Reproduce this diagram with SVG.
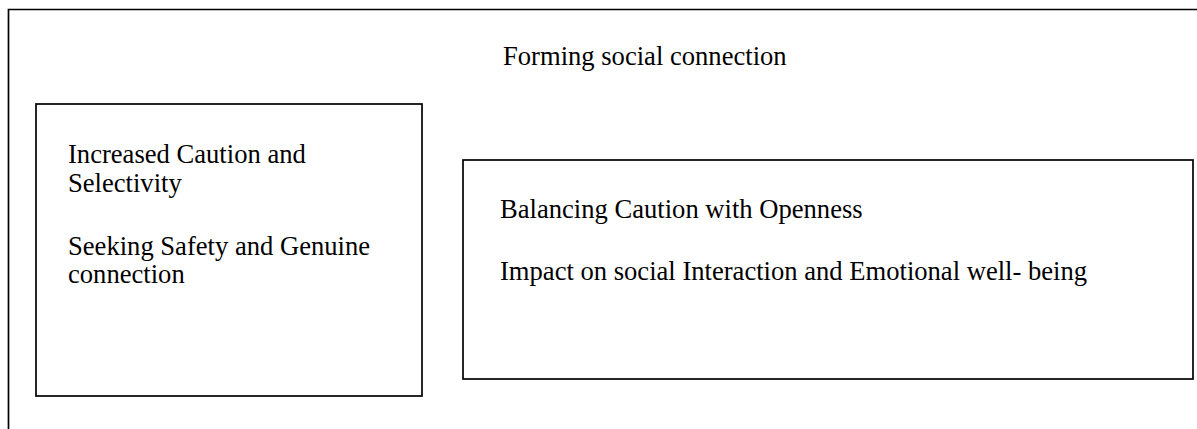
<svg xmlns="http://www.w3.org/2000/svg" width="1197" height="429" viewBox="0 0 1197 429">
  <style>
    .frame { fill: none; stroke: #000; stroke-width: 1.7; }
    .box { fill: #fff; stroke: #000; stroke-width: 1.7; }
    .label { font-family: "Liberation Serif", "Times New Roman", serif; font-size: 26.6px; fill: #000; }
  </style>
  <rect width="1197" height="429" fill="#fff"/>

  <!-- open outer frame: top and left edges only -->
  <g id="connectors">
    <path class="frame" d="M1197 9.5 H8.5 V429"/>
  </g>

  <g id="title">
    <text class="label" x="503" y="65">Forming social connection</text>
  </g>

  <g id="node-left">
    <rect class="box" x="36" y="104" width="386" height="292"/>
    <text class="label" x="68" y="163">Increased Caution and</text>
    <text class="label" x="68" y="192">Selectivity</text>
    <text class="label" x="68" y="255">Seeking Safety and Genuine</text>
    <text class="label" x="68" y="283">connection</text>
  </g>

  <g id="node-right">
    <rect class="box" x="463" y="160" width="730" height="219"/>
    <text class="label" x="500" y="218">Balancing Caution with Openness</text>
    <text class="label" x="500" y="280">Impact on social Interaction and Emotional well- being</text>
  </g>
</svg>
